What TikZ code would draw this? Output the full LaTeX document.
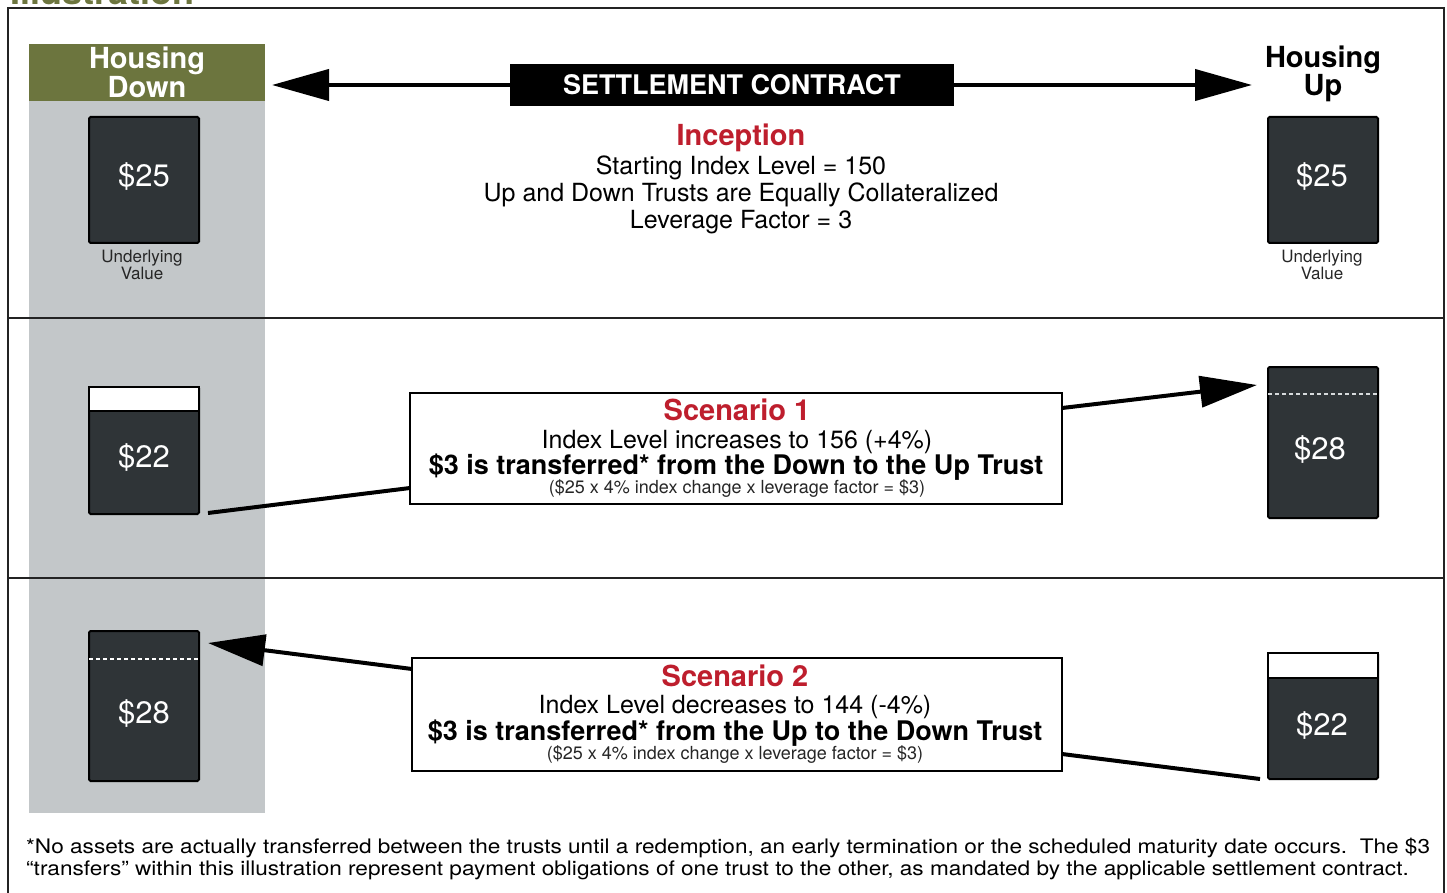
\documentclass[tikz,border=0pt]{standalone}
\usepackage{fontspec}
\setmainfont{TeX Gyre Heros}
\usetikzlibrary{arrows.meta}
\definecolor{olivehead}{RGB}{108,117,62}
\definecolor{colgray}{RGB}{195,199,201}
\definecolor{trustc}{RGB}{47,52,55}
\definecolor{redtitle}{RGB}{190,30,45}
\definecolor{framec}{RGB}{35,35,35}
\definecolor{dashc}{RGB}{215,218,220}
\newcommand{\pxsize}[1]{\fontsize{#1}{#1}\selectfont}

\begin{document}
\begin{tikzpicture}[x=1pt,y=-1pt,line join=miter,>=Latex]
\tikzset{trust/.style={draw=black,fill=trustc,line width=2pt,rounded corners=1.5pt,minimum width=110pt,inner sep=0pt,outer sep=0pt},
  val/.style={text=white,font=\pxsize{31},inner sep=0pt},
  head/.style={font=\bfseries\fontsize{29}{24}\selectfont,align=center,inner sep=0pt},
  under/.style={font=\fontsize{17}{15}\selectfont,align=center,inner sep=0pt,text=black!85},
  ttl/.style={text=redtitle,font=\bfseries\pxsize{29},anchor=base,inner sep=0pt},
  body/.style={font=\pxsize{25},anchor=base,inner sep=0pt},
  bodyb/.style={font=\bfseries\pxsize{27},anchor=base,inner sep=0pt},
  small/.style={font=\pxsize{18},anchor=base,inner sep=0pt,text=black!85},
  note/.style={font=\pxsize{20},anchor=base west,inner sep=0pt},
  scen/.style={draw=black,line width=2pt,fill=white,inner sep=0pt,outer sep=0pt},
  bigarrow/.style={line width=4pt,-{Triangle[length=57pt,width=31pt]}},
  link/.style={line width=4pt},
  topline/.style={dashc,line width=2pt,dash pattern=on 4pt off 3pt}}

\useasboundingbox (0,0) rectangle (1447,893);
\node[anchor=base west,text=olivehead,font=\bfseries\pxsize{36},inner sep=0pt] (ill) at (10,5) {Illustration};

\fill[colgray] (29,101) rectangle (265,813);
\node[head,fill=olivehead,text=white,minimum width=236pt,minimum height=57pt] (hd) at (147,72.5) {Housing\\Down};
\node[head] (hu) at (1323,74) {Housing\\Up};

\draw[framec,line width=2pt] (8,900) -- (8,8) -- (1444,8) -- (1444,900);
\draw[framec,line width=2pt] (8,318) -- (1444,318);
\draw[framec,line width=2pt] (8,578) -- (1444,578);

% inception
\node[fill=black,text=white,font=\bfseries\pxsize{27},minimum width=444pt,minimum height=42pt,inner sep=0pt] (sc) at (732,85) {SETTLEMENT CONTRACT};
\coordinate (tl) at (272,85);
\coordinate (tr) at (1252,85);
\draw[bigarrow] (sc.west) -- (tl);
\draw[bigarrow] (sc.east) -- (tr);
\node[ttl] (inc) at (741,146) {Inception};
\node[body] (l1) at (741,174.5) {Starting Index Level = 150};
\node[body] (l2) at (741,201.5) {Up and Down Trusts are Equally Collateralized};
\node[body] (l3) at (741,228.5) {Leverage Factor = 3};

\node[trust,minimum height=126pt] (d0) at (144,180) {};
\node[val] (v0) at (144,177) {\$25};
\node[under] (ud) at (142,265) {Underlying\\Value};
\node[trust,minimum height=126pt] (u0) at (1323,180) {};
\node[val] (w0) at (1322,177) {\$25};
\node[under] (uu) at (1322,265) {Underlying\\Value};

% scenario 1
\node[trust,minimum height=127pt] (d1) at (144,450.5) {};
\draw[fill=white,line width=2pt] (d1.north west) rectangle ++(110,24);
\node[val] (v1) at (144,458) {\$22};
\node[trust,minimum height=151pt] (u1) at (1323,442.5) {};
\draw[topline] ([yshift=-27pt]u1.north west) -- ([yshift=-27pt]u1.north east);
\node[val] (w1) at (1320,450) {\$28};
\node[scen,minimum width=652pt,minimum height=111pt] (s1) at (736,448.5) {};
\node[ttl] (t1a) at (737,420) {Scenario 1};
\node[body] (t1b) at (737,448) {Index Level increases to 156 (+4\%)};
\node[bodyb] (t1c) at (736,474) {\$3 is transferred* from the Down to the Up Trust};
\node[small] (t1d) at (737,493) {(\$25 x 4\% index change x leverage factor = \$3)};
\coordinate (a1) at (208,513);
\coordinate (h1) at (1257,385);
\draw[link] (a1) -- ([yshift=16pt]s1.south west);
\draw[bigarrow] ([yshift=-15pt]s1.north east) -- (h1);

% scenario 2
\node[trust,minimum height=150pt] (d2) at (144,706) {};
\draw[topline,white] ([yshift=-28pt]d2.north west) -- ([yshift=-28pt]d2.north east);
\node[val] (v2) at (144,714) {\$28};
\node[trust,minimum height=126pt] (u2) at (1323,716) {};
\draw[fill=white,line width=2pt] (u2.north west) rectangle ++(110,25);
\node[val] (w2) at (1322,726) {\$22};
\node[scen,minimum width=650pt,minimum height=113pt] (s2) at (737,714.5) {};
\node[ttl] (t2a) at (735,686) {Scenario 2};
\node[body] (t2b) at (735,713) {Index Level decreases to 144 (-4\%)};
\node[bodyb] (t2c) at (735,740) {\$3 is transferred* from the Up to the Down Trust};
\node[small] (t2d) at (735,759) {(\$25 x 4\% index change x leverage factor = \$3)};
\coordinate (h2) at (208,643);
\coordinate (a2) at (1260,779);
\draw[bigarrow] ([yshift=-11pt]s2.north west) -- (h2);
\draw[link] ([yshift=17pt]s2.south east) -- (a2);

\node[note] (n1) at (26,853) {\scalebox{1.13}[1]{*No assets are actually transferred between the trusts until a redemption, an early termination or the scheduled maturity date occurs.\ \ The \$3}};
\node[note] (n2) at (26,875) {\scalebox{1.13}[1]{“transfers” within this illustration represent payment obligations of one trust to the other, as mandated by the applicable settlement contract.}};
\end{tikzpicture}
\end{document}
